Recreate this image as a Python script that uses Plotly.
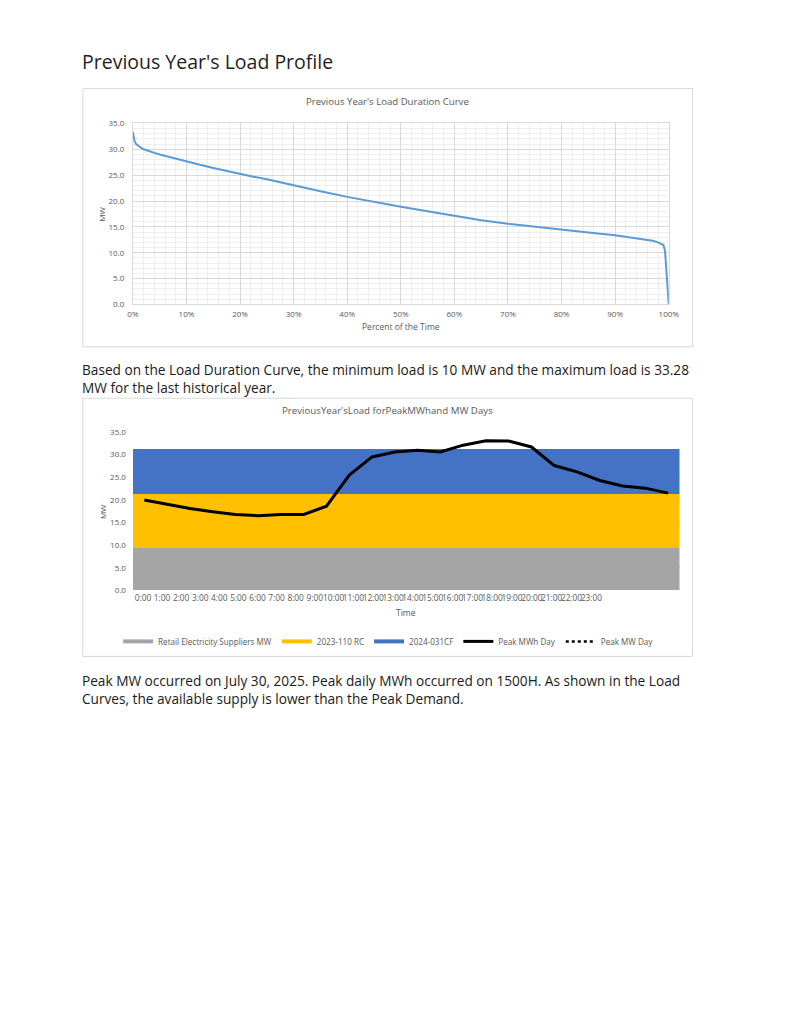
import plotly.graph_objects as go

W, H = 791, 1024


def px(x):
    return x / W


def py(y):
    return 1 - y / H


# ---------------- data ----------------
# Load duration curve (percent of time vs MW)
ldc_pct = [0, 0.1, 0.3, 0.6, 1, 1.5, 2, 3, 4, 5, 7.5, 10, 12.5, 15, 17.5, 20,
           22.5, 25, 27.5, 30, 35, 40, 45, 50, 55, 60, 65, 70, 75, 80, 85, 90,
           95, 97, 98, 99.0, 99.3, 99.6, 99.9, 100]
ldc_mw = [33.3, 32.4, 31.6, 31.0, 30.6, 30.3, 30.0, 29.6, 29.3, 29.0, 28.3,
          27.7, 27.0, 26.4, 25.8, 25.2, 24.7, 24.2, 23.6, 23.0, 21.9, 20.8,
          19.8, 18.9, 18.0, 17.1, 16.3, 15.6, 15.0, 14.4, 13.9, 13.4, 12.7,
          12.3, 12.0, 11.5, 10.4, 5.0, 0.5, 0.0]

hours = ["0:00", "1:00", "2:00", "3:00", "4:00", "5:00", "6:00", "7:00",
         "8:00", "9:00", "10:00", "11:00", "12:00", "13:00", "14:00", "15:00",
         "16:00", "17:00", "18:00", "19:00", "20:00", "21:00", "22:00", "23:00"]

retail_mw = [9.3] * 24
rc_2023_110 = [12.0] * 24
cf_2024_031 = [10.0] * 24
peak_mwh_day = [20.0, 19.0, 18.1, 17.4, 16.8, 16.5, 16.8, 16.8, 18.6, 25.5,
                29.5, 30.6, 31.0, 30.6, 32.1, 33.1, 33.0, 31.7, 27.6, 26.2,
                24.3, 23.1, 22.6, 21.5]
peak_mw_day = [None] * 24

# ---------------- styles ----------------
FONT = "Open Sans"
AX_COL = "#595959"
GRID = "#D9D9D9"
MINOR = "#EFEFEF"
C_GRAY = "#A5A5A5"
C_YEL = "#FFC000"
C_BLUE = "#4472C4"

fig = go.Figure()

# Chart 1: load duration curve
fig.add_trace(go.Scatter(x=ldc_pct, y=ldc_mw, mode="lines",
                         line=dict(color="#5B9BD5", width=2),
                         xaxis="x", yaxis="y", showlegend=False,
                         name="Load Duration Curve"))

# Chart 2: stacked supply blocks
for vals, col, nm in [(retail_mw, C_GRAY, "Retail Electricity Suppliers MW"),
                      (rc_2023_110, C_YEL, "2023-110 RC"),
                      (cf_2024_031, C_BLUE, "2024-031CF")]:
    fig.add_trace(go.Bar(x=hours, y=vals, name=nm, marker=dict(color=col, line=dict(width=0)),
                         xaxis="x2", yaxis="y2", showlegend=False, legendgroup=nm))

# legend entries drawn as wide swatches like the original
for col, nm in [(C_GRAY, "Retail Electricity Suppliers MW"),
                (C_YEL, "2023-110 RC"),
                (C_BLUE, "2024-031CF")]:
    fig.add_trace(go.Scatter(x=[None], y=[None], mode="lines", name=nm,
                             line=dict(color=col, width=4),
                             xaxis="x2", yaxis="y2", legendgroup=nm))

fig.add_trace(go.Scatter(x=hours, y=peak_mwh_day, mode="lines", name="Peak MWh Day",
                         line=dict(color="black", width=3),
                         xaxis="x2", yaxis="y2"))
fig.add_trace(go.Scatter(x=[None] * 24, y=peak_mw_day, mode="lines", name="Peak MW Day",
                         line=dict(color="black", width=2.5, dash="dot"),
                         xaxis="x3", yaxis="y2"))

# label positions of the hour axis (as rendered in the source, packed to the left)
x2_left, x2_right = 129.7, 688.3
label_pos = []
for i, lab in enumerate(hours):
    if i < 10:
        label_pos.append(140 + 19.5 * i)
    else:
        label_pos.append(334.8 + 20.26 * (i - 10))

tickfont = dict(family=FONT, size=8, color=AX_COL)

fig.update_layout(
    width=W, height=H,
    margin=dict(l=0, r=0, t=0, b=0),
    paper_bgcolor="white", plot_bgcolor="white",
    font=dict(family=FONT, color=AX_COL),
    barmode="stack", bargap=0,
    showlegend=True,
    legend=dict(orientation="h", x=px(391), y=py(642.3), xanchor="center", yanchor="middle",
                font=dict(family=FONT, size=8.1, color=AX_COL), itemwidth=30,
                bgcolor="rgba(0,0,0,0)", traceorder="normal"),
    xaxis=dict(domain=[px(129.7), px(677.3)], anchor="y", range=[0, 100], dtick=10,
               ticksuffix="%", showgrid=True, gridcolor=GRID, gridwidth=1,
               minor=dict(dtick=2, showgrid=True, gridcolor=MINOR, gridwidth=1),
               showline=True, linecolor=GRID, mirror=True, zeroline=False,
               ticks="", ticklabelstandoff=2, tickfont=tickfont, fixedrange=True),
    yaxis=dict(domain=[py(301.7), py(118.7)], anchor="x", range=[0, 35], dtick=5,
               tickformat=".1f", showgrid=True, gridcolor=GRID, gridwidth=1,
               minor=dict(dtick=1, showgrid=True, gridcolor=MINOR, gridwidth=1),
               showline=True, linecolor=GRID, mirror=True, zeroline=False,
               ticks="", ticklabelstandoff=6, tickfont=tickfont, fixedrange=True),
    xaxis2=dict(domain=[px(x2_left), px(x2_right)], anchor="y2", type="category",
                range=[-0.5, 23.5], showticklabels=False, showgrid=False,
                zeroline=False, showline=False, ticks="", fixedrange=True),
    yaxis2=dict(domain=[py(590.7), py(430.7)], anchor="x2", range=[0, 35], dtick=5,
                tickformat=".1f", showgrid=True, gridcolor=GRID, gridwidth=1,
                zeroline=False, showline=False, ticks="", ticklabelstandoff=6,
                tickfont=tickfont, fixedrange=True),
    xaxis3=dict(overlaying="x2", anchor="y2", type="linear", range=[x2_left, x2_right],
                tickmode="array", tickvals=label_pos, ticktext=hours, tickangle=0,
                showgrid=False, zeroline=False, showline=False, ticks="",
                ticklabelstandoff=1, tickfont=dict(family=FONT, size=8.3, color=AX_COL),
                fixedrange=True),
)

# chart frames
for y0, y1 in [(83.5, 344.5), (396.5, 657.5)]:
    fig.add_shape(type="rect", xref="paper", yref="paper",
                  x0=px(78.5), x1=px(701.5), y0=py(y1), y1=py(y0),
                  line=dict(color=GRID, width=1), fillcolor="rgba(0,0,0,0)", layer="below")


def note(text, x, y, size, color, xanchor="center", angle=0):
    fig.add_annotation(text=text, x=px(x), y=py(y), xref="paper", yref="paper",
                       xanchor=xanchor, yanchor="middle", showarrow=False, textangle=angle,
                       align="left" if xanchor == "left" else "center",
                       font=dict(family=FONT, size=size, color=color))


# page text
note("Previous Year's Load Profile", 76, 56, 19.5, "#1F1F1F", xanchor="left")
note("Based on the Load Duration Curve, the minimum load is 10 MW and the maximum load is 33.28"
     "<br>MW for the last historical year.", 75.5, 377, 13.65, "#1A1A1A", xanchor="left")
note("Peak MW occurred on July 30, 2025. Peak daily MWh occurred on 1500H. As shown in the Load"
     "<br>Curves, the available supply is lower than the Peak Demand.", 75.5, 690.7, 13.65,
     "#1A1A1A", xanchor="left")

# chart titles and axis titles
note("Previous Year's Load Duration Curve", 389.5, 97, 9.6, AX_COL)
note("Percent of the Time", 403.5, 323.5, 8.5, AX_COL)
note("MW", 98, 210, 8, AX_COL, angle=-90)
note("PreviousYear'sLoad forPeakMWhand MW Days", 389.5, 409, 9.7, AX_COL)
note("Time", 409, 613, 8.5, AX_COL)
note("MW", 98, 510.7, 8, AX_COL, angle=-90)

fig.write_html("out.html", config={"displayModeBar": False},
               post_script="document.body.style.margin='0';"
                           "document.body.style.overflow='hidden';"
                           "document.documentElement.style.overflow='hidden';")
